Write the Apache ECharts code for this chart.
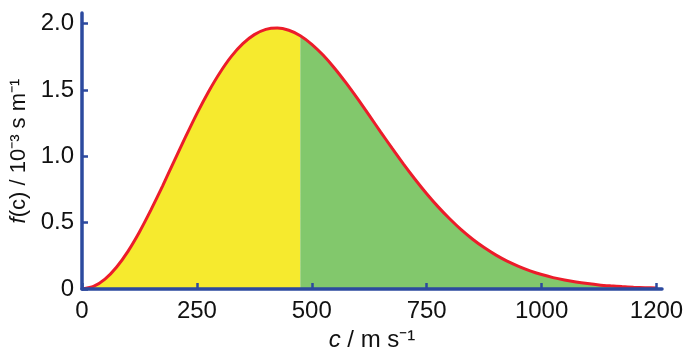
<!DOCTYPE html>
<html>
<head>
<meta charset="utf-8">
<script src="https://cdn.jsdelivr.net/npm/echarts@6/dist/echarts.min.js"></script>
<style>
  html, body { margin: 0; padding: 0; background: #fff; }
  #chart { width: 687px; height: 349px; }
</style>
</head>
<body>
<div id="chart"></div>
<script>
// speed c in m/s, read every 25 m/s
const speeds = [
  0, 25, 50, 75, 100, 125, 150, 175, 200, 225,
  250, 275, 300, 325, 350, 375, 400, 425, 450, 475,
  500, 525, 550, 575, 600, 625, 650, 675, 700, 725,
  750, 775, 800, 825, 850, 875, 900, 925, 950, 975,
  1000, 1025, 1050, 1075, 1100, 1125, 1150, 1175, 1200, 1225, 1250
];
// f(c) in 10^-3 s/m
const density = [
  0, 0.019, 0.074, 0.164, 0.284, 0.430, 0.596, 0.774, 0.960, 1.144,
  1.322, 1.485, 1.630, 1.753, 1.849, 1.917, 1.957, 1.967, 1.950, 1.909,
  1.844, 1.761, 1.662, 1.551, 1.432, 1.308, 1.183, 1.059, 0.939, 0.825,
  0.718, 0.619, 0.529, 0.447, 0.375, 0.312, 0.257, 0.210, 0.171, 0.137,
  0.109, 0.086, 0.068, 0.053, 0.041, 0.031, 0.024, 0.018, 0.013, 0.010, 0.007
];
const splitSpeed = 475;

const xTickValues = [0, 250, 500, 750, 1000, 1250];
const xTickLabels = ['0', '250', '500', '750', '1000', '1200'];
const yTickValues = [0, 0.5, 1.0, 1.5, 2.0];
const yTickLabels = ['0', '0.5', '1.0', '1.5', '2.0'];

const curve = speeds.map((c, i) => [c, density[i]]);
const lowPart = curve.filter(p => p[0] <= splitSpeed);
const highPart = curve.filter(p => p[0] >= splitSpeed);

const axisBlue = '#2c4a9f';
const font = 'Liberation Sans, Arial, sans-serif';

const chart = echarts.init(document.getElementById('chart'));

chart.setOption({
  animation: false,
  grid: { left: 82, right: 25, top: 13, bottom: 60, outerBoundsMode: 'none' },
  xAxis: {
    type: 'value',
    min: 0,
    max: 1262,
    z: 5,
    name: '{i|c} / m s⁻¹',
    nameLocation: 'middle',
    nameGap: 38,
    nameTextStyle: {
      fontFamily: font, fontSize: 24, color: '#111',
      rich: { i: { fontStyle: 'italic', fontFamily: font, fontSize: 24, color: '#111' } }
    },
    splitLine: { show: false },
    axisLine: { show: true, lineStyle: { color: axisBlue, width: 3.5 } },
    axisTick: {
      show: true, inside: true, length: 6,
      customValues: xTickValues,
      lineStyle: { color: axisBlue, width: 2.5 }
    },
    axisLabel: {
      customValues: xTickValues,
      margin: 10,
      fontFamily: font, fontSize: 24, color: '#111',
      formatter: v => xTickLabels[xTickValues.indexOf(v)]
    }
  },
  yAxis: {
    type: 'value',
    min: 0,
    max: 2.08,
    z: 5,
    name: '{i|f}(c) / 10⁻³ s m⁻¹',
    nameLocation: 'middle',
    nameGap: 32,
    nameRotate: 90,
    nameTextStyle: {
      fontFamily: font, fontSize: 22, color: '#111',
      align: 'center', verticalAlign: 'middle',
      rich: { i: { fontStyle: 'italic', fontFamily: font, fontSize: 22, color: '#111' } }
    },
    splitLine: { show: false },
    axisLine: { show: true, lineStyle: { color: axisBlue, width: 3.5 } },
    axisTick: {
      show: true, inside: true, length: 6,
      customValues: yTickValues,
      lineStyle: { color: axisBlue, width: 2.5 }
    },
    axisLabel: {
      customValues: yTickValues,
      margin: 8,
      fontFamily: font, fontSize: 24, color: '#111',
      formatter: v => yTickLabels[yTickValues.indexOf(v)]
    }
  },
  series: [
    {
      type: 'line',
      data: lowPart,
      showSymbol: false,
      lineStyle: { width: 0 },
      areaStyle: { color: '#f6ea2e', opacity: 1 },
      z: 1
    },
    {
      type: 'line',
      data: highPart,
      showSymbol: false,
      lineStyle: { width: 0 },
      areaStyle: { color: '#82c86c', opacity: 1 },
      z: 1
    },
    {
      type: 'line',
      data: curve,
      showSymbol: false,
      smooth: 0.2,
      lineStyle: { color: '#ec1c2a', width: 3 },
      z: 3
    }
  ]
});
</script>
</body>
</html>
